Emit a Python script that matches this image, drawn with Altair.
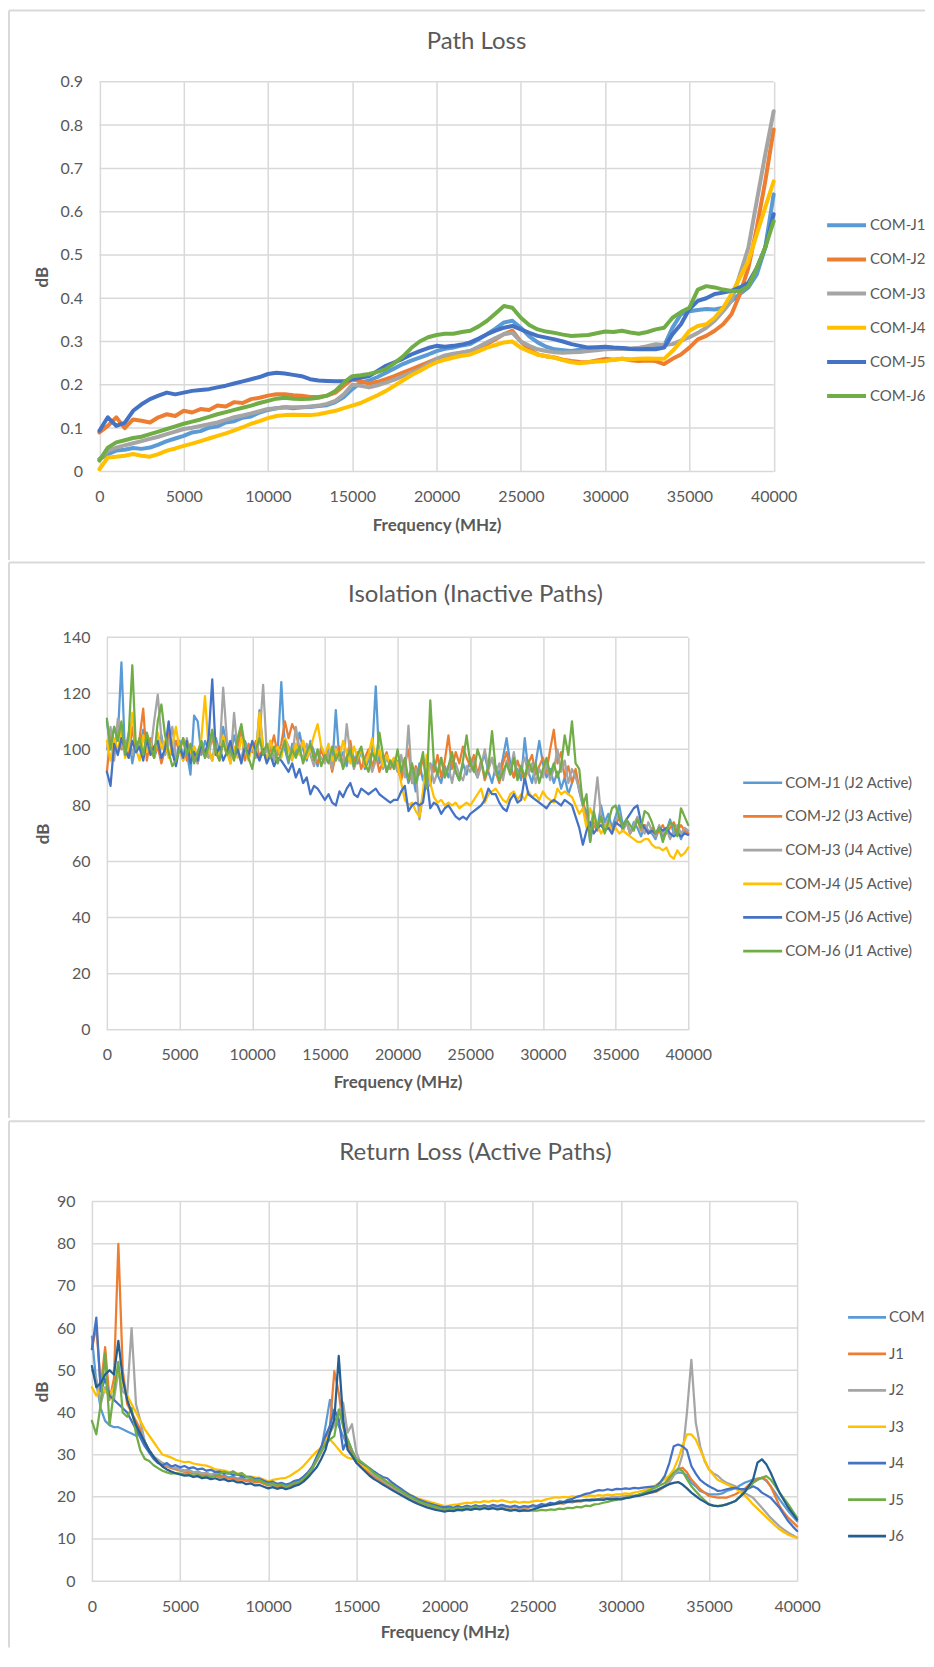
import altair as alt
import pandas as pd

FONT = "Lato"
GRID = "#D9D9D9"
TXT = "#595959"

# ---------------- Path Loss (500 MHz grid) ----------------
pl_freq = list(range(0, 40001, 500))
pl_names = ["COM-J1", "COM-J2", "COM-J3", "COM-J4", "COM-J5", "COM-J6"]
pl_colors = ["#5B9BD5", "#ED7D31", "#A5A5A5", "#FFC000", "#4472C4", "#70AD47"]
pl_ticks = [0, 0.1, 0.2, 0.3, 0.4, 0.5, 0.6, 0.7, 0.8, 0.9]

pl_j1 = [0.028, 0.040, 0.048, 0.050, 0.054, 0.052, 0.055, 0.062, 0.070, 0.076,
         0.082, 0.090, 0.093, 0.101, 0.104, 0.113, 0.116, 0.124, 0.127, 0.136,
         0.142, 0.146, 0.148, 0.146, 0.148, 0.149, 0.151, 0.153, 0.160, 0.172,
         0.190, 0.205, 0.210, 0.218, 0.228, 0.238, 0.248, 0.256, 0.263, 0.270,
         0.278, 0.283, 0.286, 0.291, 0.294, 0.305, 0.317, 0.330, 0.344, 0.348,
         0.332, 0.312, 0.298, 0.288, 0.282, 0.280, 0.278, 0.281, 0.282, 0.284,
         0.283, 0.285, 0.285, 0.283, 0.285, 0.287, 0.287, 0.290, 0.332, 0.363,
         0.370, 0.373, 0.375, 0.374, 0.378, 0.394, 0.410, 0.425, 0.455, 0.517,
         0.640]
pl_j2 = [0.090, 0.105, 0.125, 0.100, 0.120, 0.117, 0.113, 0.125, 0.132, 0.128,
         0.140, 0.136, 0.144, 0.142, 0.152, 0.150, 0.160, 0.158, 0.167, 0.170,
         0.175, 0.178, 0.178, 0.176, 0.175, 0.172, 0.172, 0.175, 0.182, 0.198,
         0.213, 0.208, 0.203, 0.207, 0.213, 0.220, 0.228, 0.236, 0.244, 0.252,
         0.260, 0.265, 0.270, 0.274, 0.278, 0.286, 0.294, 0.305, 0.317, 0.325,
         0.300, 0.282, 0.270, 0.266, 0.263, 0.258, 0.255, 0.253, 0.252, 0.256,
         0.260, 0.258, 0.260, 0.257, 0.255, 0.256, 0.255, 0.248, 0.260, 0.270,
         0.286, 0.305, 0.313, 0.325, 0.340, 0.363, 0.410, 0.470, 0.563, 0.670,
         0.790]
pl_j3 = [0.028, 0.048, 0.055, 0.060, 0.065, 0.070, 0.075, 0.080, 0.086, 0.092,
         0.098, 0.101, 0.105, 0.109, 0.113, 0.119, 0.125, 0.129, 0.134, 0.139,
         0.144, 0.146, 0.148, 0.148, 0.148, 0.150, 0.152, 0.156, 0.163, 0.178,
         0.200, 0.198, 0.194, 0.199, 0.205, 0.212, 0.220, 0.228, 0.236, 0.248,
         0.260, 0.268, 0.272, 0.275, 0.278, 0.288, 0.298, 0.308, 0.317, 0.320,
         0.300, 0.290, 0.282, 0.278, 0.275, 0.274, 0.275, 0.276, 0.278, 0.280,
         0.282, 0.283, 0.283, 0.284, 0.285, 0.289, 0.294, 0.292, 0.294, 0.302,
         0.310, 0.320, 0.332, 0.348, 0.370, 0.394, 0.455, 0.517, 0.625, 0.732,
         0.832]
pl_j4 = [0.005, 0.032, 0.034, 0.036, 0.040, 0.036, 0.034, 0.040, 0.048, 0.053,
         0.059, 0.064, 0.070, 0.076, 0.082, 0.088, 0.095, 0.102, 0.110, 0.116,
         0.123, 0.128, 0.130, 0.131, 0.130, 0.130, 0.132, 0.136, 0.140, 0.146,
         0.152, 0.158, 0.167, 0.176, 0.186, 0.198, 0.210, 0.222, 0.232, 0.243,
         0.252, 0.258, 0.263, 0.267, 0.270, 0.278, 0.286, 0.292, 0.298, 0.300,
         0.286, 0.277, 0.270, 0.266, 0.263, 0.257, 0.252, 0.250, 0.252, 0.254,
         0.255, 0.258, 0.260, 0.259, 0.260, 0.261, 0.260, 0.260, 0.278, 0.300,
         0.325, 0.336, 0.340, 0.355, 0.378, 0.410, 0.448, 0.486, 0.548, 0.610,
         0.670]
pl_j5 = [0.094, 0.125, 0.105, 0.112, 0.140, 0.155, 0.167, 0.175, 0.182, 0.178,
         0.182, 0.186, 0.188, 0.190, 0.194, 0.198, 0.203, 0.208, 0.213, 0.218,
         0.225, 0.228, 0.226, 0.223, 0.220, 0.213, 0.210, 0.209, 0.208, 0.208,
         0.213, 0.216, 0.220, 0.232, 0.244, 0.252, 0.260, 0.270, 0.278, 0.285,
         0.290, 0.288, 0.290, 0.293, 0.298, 0.307, 0.317, 0.325, 0.332, 0.336,
         0.328, 0.320, 0.313, 0.309, 0.305, 0.300, 0.294, 0.290, 0.286, 0.287,
         0.288, 0.286, 0.285, 0.283, 0.282, 0.283, 0.282, 0.286, 0.317, 0.340,
         0.375, 0.394, 0.400, 0.410, 0.413, 0.417, 0.425, 0.436, 0.470, 0.517,
         0.594]
pl_j6 = [0.025, 0.055, 0.067, 0.072, 0.077, 0.080, 0.086, 0.092, 0.098, 0.104,
         0.110, 0.115, 0.120, 0.126, 0.132, 0.137, 0.142, 0.147, 0.152, 0.158,
         0.163, 0.168, 0.170, 0.168, 0.167, 0.168, 0.170, 0.175, 0.186, 0.205,
         0.220, 0.222, 0.225, 0.230, 0.236, 0.250, 0.265, 0.285, 0.300, 0.310,
         0.315, 0.318, 0.318, 0.322, 0.325, 0.335, 0.348, 0.365, 0.382, 0.378,
         0.355, 0.338, 0.328, 0.323, 0.320, 0.316, 0.313, 0.314, 0.315, 0.319,
         0.323, 0.322, 0.325, 0.321, 0.318, 0.322, 0.328, 0.332, 0.355, 0.368,
         0.378, 0.420, 0.428, 0.425, 0.420, 0.417, 0.417, 0.428, 0.470, 0.517,
         0.578]

# ---------------- Isolation (250 MHz grid) ----------------
iso_freq = list(range(0, 40001, 250))
iso_names = ["COM-J1 (J2 Active)", "COM-J2 (J3 Active)", "COM-J3 (J4 Active)",
             "COM-J4 (J5 Active)", "COM-J5 (J6 Active)", "COM-J6 (J1 Active)"]
iso_colors = ["#5B9BD5", "#ED7D31", "#A5A5A5", "#FFC000", "#4472C4", "#70AD47"]
iso_ticks = [0, 20, 40, 60, 80, 100, 120, 140]

iso_j1 = [110, 100, 108, 104, 131, 98, 105, 95, 102, 100, 107, 99, 103, 97, 101, 105, 98, 106, 100, 96,
          103, 97, 99, 91, 112, 110, 98, 103, 100, 96, 104, 99, 108, 101, 97, 105, 100, 96, 103, 99,
          102, 98, 114, 100, 96, 103, 97, 99, 124, 100, 95, 102, 98, 106, 100, 96, 103, 99, 94, 101,
          97, 100, 93, 114, 96, 99, 94, 101, 97, 95, 100, 93, 96, 99, 122.5, 95, 98, 92, 96, 94,
          96, 90, 94, 88, 92, 85, 95, 89, 93, 87, 96, 91, 88, 94, 90, 96, 92, 89, 95, 91,
          97, 93, 90, 95, 98, 92, 88, 94, 91, 97, 104, 95, 90, 93, 89, 104, 92, 88, 95, 103,
          95, 90, 93, 88, 92, 86, 90, 84, 88, 92, 85, 80, 78, 67, 75, 72, 80, 74, 77, 72,
          76, 80, 73, 75, 70, 74, 72, 69, 73, 71, 70, 68, 72, 69, 71, 75, 70, 72, 68, 71,
          70]
iso_j2 = [92, 105, 98, 107, 100, 103, 97, 108, 99, 104, 114.5, 96, 104, 98, 101, 95, 100, 106, 98, 103,
          99, 104, 96, 101, 98, 95, 102, 97, 100, 104, 99, 96, 103, 98, 101, 97, 100, 108, 96, 102,
          99, 103, 97, 101, 96, 100, 105, 98, 102, 110, 104, 109, 106, 100, 103, 97, 101, 98, 95, 100,
          96, 99, 92, 98, 101, 94, 97, 103, 95, 99, 93, 97, 100, 94, 98, 92, 96, 99, 93, 97,
          93, 89, 95, 100, 88, 94, 91, 97, 89, 95, 92, 98, 90, 96, 105, 93, 99, 95, 101, 97,
          94, 98, 91, 96, 89, 93, 97, 92, 88, 95, 99, 93, 90, 96, 92, 89, 95, 98, 91, 94,
          97, 92, 100, 107, 95, 99, 90, 94, 88, 93, 86, 82, 75, 69, 73, 71, 76, 72, 74, 70,
          73, 76, 71, 74, 70, 72, 75, 71, 73, 70, 72, 69, 71, 73, 70, 72, 74, 71, 73, 71,
          70]
iso_j3 = [100, 108, 96, 111, 101, 99, 106, 98, 103, 100, 97, 105, 99, 110, 119.5, 104, 98, 102, 108, 97,
          100, 96, 104, 98, 101, 95, 103, 99, 97, 106, 100, 98, 122, 104, 95, 113, 99, 96, 102, 98,
          101, 97, 104, 123, 99, 103, 96, 100, 98, 104, 101, 97, 108, 100, 96, 102, 98, 94, 99, 97,
          95, 99, 93, 101, 97, 94, 109, 98, 93, 97, 100, 94, 98, 92, 96, 99, 93, 97, 94, 96,
          92, 98, 90, 108.5, 88, 93, 75, 84, 90, 95, 88, 92, 97, 90, 94, 88, 95, 91, 89, 94,
          92, 96, 90, 94, 100, 93, 97, 91, 95, 89, 96, 92, 99, 90, 94, 97, 91, 95, 88, 93,
          90, 95, 89, 93, 100, 92, 96, 88, 93, 90, 86, 80, 74, 72, 78, 90, 76, 72, 75, 70,
          74, 77, 71, 74, 70, 73, 76, 72, 70, 74, 71, 69, 73, 70, 72, 68, 71, 73, 70, 72,
          71]
iso_j4 = [103, 96, 104, 99, 108, 97, 101, 113, 100, 96, 105, 99, 102, 97, 106, 100, 103, 97, 101, 108,
          100, 96, 103, 99, 101, 97, 104, 119, 100, 96, 102, 98, 105, 99, 95, 101, 97, 104, 100, 96,
          102, 98, 113, 100, 96, 103, 99, 101, 97, 104, 100, 96, 102, 98, 103, 97, 100, 105, 109, 101,
          98, 102, 96, 100, 97, 103, 99, 95, 101, 97, 100, 94, 98, 104, 96, 100, 94, 98, 95, 97,
          95, 88, 82, 80, 81, 78, 76, 85, 98, 88, 83, 81, 82, 80, 81, 80, 81, 79, 80, 81,
          80, 82, 84, 86, 81, 84, 85, 86, 84, 82, 81, 84, 85, 82, 84, 82, 85, 83, 84, 82,
          85, 83, 82, 81, 86, 84, 85, 84, 83, 80, 77, 79, 72, 79, 75, 73, 70, 72, 74, 71,
          72, 70, 71, 70, 69, 68, 67, 67, 68, 68, 66, 65, 65, 64, 65, 62, 61, 64, 62, 63,
          65]
iso_j5 = [92, 87, 102, 98, 104, 100, 97, 103, 99, 101, 96, 104, 98, 101, 103, 97, 100, 110, 99, 94,
          101, 97, 103, 95, 99, 96, 102, 98, 104, 125, 98, 101, 96, 99, 103, 97, 100, 95, 101, 98,
          103, 99, 96, 100, 95, 98, 94, 97, 96, 94, 92, 95, 90, 93, 88, 90, 84, 87, 86, 84,
          82, 84, 81, 80, 85, 83, 86, 88, 84, 83, 86, 85, 84, 85, 86, 84, 83, 82, 81, 82,
          82, 85, 87, 78, 80, 81, 80, 81, 90, 79, 81, 80, 77, 79, 80, 78, 76, 75, 76, 75,
          77, 78, 79, 80, 82, 86, 84, 84, 81, 79, 78, 82, 84, 81, 82, 90, 84, 83, 82, 81,
          80, 79, 81, 82, 81, 80, 82, 81, 80, 76, 72, 66, 71, 74, 70, 72, 73, 71, 72, 70,
          74, 73, 72, 75, 77, 79, 80, 74, 72, 70, 71, 70, 72, 71, 72, 70, 69, 70, 69, 70,
          69.5]
iso_j6 = [111, 100, 108, 103, 110, 98, 105, 130, 100, 104, 98, 106, 101, 97, 110, 116, 105, 99, 94, 96,
          100, 104, 98, 102, 95, 99, 103, 97, 101, 107, 99, 96, 103, 98, 100, 96, 104, 109, 101, 97,
          93, 100, 104, 98, 102, 97, 101, 95, 99, 103, 96, 100, 97, 101, 95, 99, 102, 96, 100, 94,
          98, 95, 101, 96, 99, 93, 97, 100, 94, 98, 101, 95, 92, 99, 96, 106, 98, 92, 96, 93,
          100, 92, 97, 89, 95, 88, 93, 99, 86, 117.5, 95, 91, 97, 90, 94, 99, 92, 89, 96, 105,
          95, 92, 100, 96, 90, 94, 106.5, 93, 89, 92, 95, 91, 97, 89, 94, 90, 96, 92, 95, 88,
          93, 97, 91, 95, 90, 94, 105, 98, 110, 95, 93, 80, 84, 67, 78, 72, 76, 70, 74, 79,
          80, 76, 72, 75, 73, 71, 75, 72, 78, 77, 74, 70, 72, 67, 71, 74, 73, 69, 79, 76,
          73]

# ---------------- Return Loss (250 MHz grid) ----------------
rl_freq = list(range(0, 40001, 250))
rl_names = ["COM", "J1", "J2", "J3", "J4", "J5", "J6"]
rl_colors = ["#5B9BD5", "#ED7D31", "#A5A5A5", "#FFC000", "#4472C4", "#70AD47", "#255E91"]
rl_ticks = [0, 10, 20, 30, 40, 50, 60, 70, 80, 90]

rl_com = [58, 47, 41, 38, 37, 36.5, 36.5, 36, 35.5, 35, 34.5, 35.5, 33, 31, 29.5, 28.5, 28, 27.5, 27, 26.8,
          26.5, 26.2, 26.4, 25.8, 26, 25.5, 25.7, 25.2, 25.4, 24.9, 25.1, 24.6, 24.8, 24.3, 24.5, 23.9, 24, 23.5, 23.7, 23.2,
          22.8, 23, 22.5, 22.7, 22.3, 22.6, 23.2, 23.4, 24, 25.5, 26.5, 29, 31, 36.8, 43, 38.4, 36.8, 34.4, 32, 30.5,
          28, 27.5, 26.5, 25.8, 25, 24.6, 23.8, 23.2, 22.5, 21.9, 21.3, 20.7, 20, 19.6, 19, 18.7, 18.3, 18, 17.8, 17.5,
          17.3, 17.5, 17.2, 17.6, 17.4, 17.8, 17.5, 17.9, 17.6, 17.8, 17.5, 17.9, 17.6, 18, 17.7, 17.5, 17.8, 17.4, 17.7, 17.6,
          17.9, 17.7, 18.1, 18, 18.4, 18.3, 18.6, 18.5, 18.9, 18.8, 19.1, 19, 19.3, 19.2, 19.5, 19.4, 19.7, 19.6, 19.9, 19.8,
          20, 20.1, 20.3, 20.2, 20.5, 20.7, 21, 21.3, 21.6, 22, 22.5, 23.5, 25.3, 25.8, 25.7, 25, 23.3, 22.5, 21.4, 21,
          20.6, 20.6, 20.6, 20.8, 21.4, 21.7, 22.1, 22.7, 23.3, 23.7, 24.1, 24.3, 24.5, 23.8, 22.5, 21, 19.4, 18, 16.6, 15.4,
          14.2]
rl_j1 = [55, 60.5, 46, 55.5, 43, 48, 80, 50, 42, 40, 38, 36, 33, 31, 29.5, 28.5, 27.8, 27.2, 26.8, 26.5,
         26.2, 25.9, 26, 25.5, 25.6, 25.2, 25.3, 24.9, 25, 24.6, 24.7, 24.3, 24.4, 24, 24.1, 23.7, 23.8, 23.4, 23.5, 23.1,
         22.7, 22.9, 22.4, 22.6, 22.2, 22.5, 23, 23.3, 24.2, 25.2, 26.8, 28.5, 30.5, 33.5, 36.8, 49.8, 44.7, 36.8, 32, 30,
         28.5, 27.3, 26.3, 25.5, 24.7, 24.2, 23.4, 22.8, 22.2, 21.6, 21, 20.4, 19.7, 19.2, 18.7, 18.3, 18, 17.7, 17.4, 17.1,
         16.8, 17, 16.9, 17.2, 17.1, 17.4, 17.2, 17.5, 17.3, 17.6, 17.4, 17.7, 17.4, 17.8, 17.5, 17.3, 17.6, 17.2, 17.5, 17.4,
         17.7, 17.6, 18, 17.9, 18.3, 18.2, 18.5, 18.4, 18.8, 18.7, 19, 18.9, 19.2, 19.1, 19.4, 19.3, 19.6, 19.5, 19.8, 19.7,
         19.9, 20, 20.2, 20.1, 20.4, 20.6, 20.8, 21, 21.2, 21.8, 22.5, 24, 25.7, 26.5, 26.9, 25.8, 24.1, 23, 21.8, 21,
         20.2, 20, 19.8, 19.8, 19.8, 20.2, 20.6, 21.2, 21.8, 22.8, 23.7, 24.2, 24.5, 24, 22.5, 20.2, 17.8, 16.3, 15, 14,
         13]
rl_j2 = [50, 48, 42, 46, 44, 43, 50, 45, 44, 60, 42, 38, 33, 31, 29.5, 28.8, 28, 27.5, 27, 26.8,
         26.4, 26.1, 26.3, 25.8, 25.9, 25.5, 25.7, 25.2, 25.8, 25.6, 26, 25.5, 26.1, 25.4, 25.6, 24.8, 24.6, 24, 24.1, 23.5,
         23.2, 23.3, 22.9, 23, 22.6, 22.9, 23.4, 23.6, 24.4, 25.5, 27, 28.5, 30.5, 32.5, 35.2, 37, 40, 42.3, 35.2, 37.2,
         30.5, 28, 27, 26, 25.2, 24.6, 23.8, 23.1, 22.5, 21.8, 21.2, 20.6, 19.9, 19.4, 18.9, 18.5, 18.2, 17.9, 17.6, 17.3,
         17, 17.3, 17.1, 17.4, 17.2, 17.6, 17.3, 17.7, 17.4, 17.7, 17.5, 17.8, 17.5, 17.9, 17.6, 17.4, 17.7, 17.3, 17.6, 17.5,
         17.8, 17.7, 18.1, 18, 18.4, 18.3, 18.6, 18.5, 18.9, 18.8, 19.1, 19, 19.3, 19.2, 19.5, 19.4, 19.7, 19.6, 19.9, 19.8,
         20, 20.1, 20.3, 20.2, 20.5, 20.7, 21, 21.2, 21.5, 22, 22.5, 23.5, 25, 26.5, 30, 40, 52.5, 37.6, 32, 28.5,
         26.5, 25.5, 25, 24, 23.3, 22.9, 22.5, 21.7, 21, 20.4, 19.8, 18.6, 17.4, 16.2, 15, 14, 13, 12.2, 11.5, 10.9,
         10.3]
rl_j3 = [46, 44, 46, 45, 44, 46, 50, 47, 44, 42, 40, 38, 36, 34.5, 33, 31.5, 30, 29.7, 29.3, 28.8,
         28.5, 28.2, 28.3, 27.9, 27.7, 27.5, 27.4, 27, 26.5, 26.4, 26.2, 25.9, 25.7, 25.5, 25.3, 25, 24.8, 24.6, 24.5, 24.1,
         23.7, 24, 24.2, 24.4, 24.5, 25, 25.7, 26.4, 27.3, 28.5, 29.7, 30.8, 31.6, 34, 33.6, 32.5, 31.2, 30, 29.3, 29,
         28.9, 27.9, 26.9, 26.3, 25.6, 25, 24.3, 23.6, 23, 22.5, 21.9, 21.2, 20.6, 20.1, 19.6, 19.3, 19, 18.7, 18.4, 18.1,
         17.8, 17.9, 18.1, 18.2, 18.4, 18.6, 18.5, 18.8, 18.7, 19, 18.8, 19.1, 18.9, 19.2, 18.9, 18.7, 18.9, 18.6, 18.8, 18.7,
         18.9, 19.1, 19, 19.4, 19.6, 19.9, 19.8, 20, 19.9, 20.1, 20, 20.2, 20.1, 20.3, 20.2, 20.4, 20.3, 20.5, 20.4, 20.6,
         20.6, 20.8, 20.7, 21, 21.2, 21.5, 21.8, 22.2, 22.8, 23.5, 24.2, 25, 26.5, 29, 32, 34.8, 34.8, 33.6, 31.2, 28.8,
         26.5, 25.2, 24, 23.5, 23, 22.5, 22, 21.2, 20.5, 19.4, 18.2, 17.2, 16.2, 15.2, 14.2, 13.2, 12.3, 11.6, 11, 10.6,
         10.3]
rl_j4 = [55, 62.5, 45, 48, 44, 43, 42, 41, 40, 38, 36, 34, 32, 30.5, 29, 28, 27.5, 28, 27.2, 27.5,
         27, 27.3, 26.8, 27, 26.5, 26.7, 26.2, 26.4, 25.9, 26, 25.5, 25.7, 25.2, 25.3, 24.9, 24.6, 24.7, 24.2, 24.3, 23.8,
         23.4, 23.6, 23.1, 23.3, 22.9, 23.2, 23.8, 24, 24.8, 25.8, 27.2, 29.5, 31.8, 34.5, 36.8, 40.7, 38.4, 31.2, 33.6, 31,
         28.9, 28.2, 27.5, 26.8, 26, 25.3, 24.7, 24.4, 23.5, 22.7, 22, 21.2, 20.5, 20, 19.4, 19, 18.6, 18.3, 18, 17.7,
         17.5, 17.7, 17.4, 17.8, 17.5, 17.9, 17.6, 18, 17.7, 18, 17.7, 18.1, 17.8, 18.1, 17.8, 17.6, 17.9, 17.5, 17.8, 17.6,
         18, 17.8, 18.3, 18.1, 18.6, 18.4, 18.9, 18.8, 19.3, 19.5, 20, 20.3, 20.7, 20.9, 21.3, 21.6, 21.5, 21.8, 21.6, 21.9,
         21.8, 22, 21.9, 22.1, 22, 22.2, 22.3, 22.4, 22.5, 23.5, 25, 28, 32, 32.4, 32, 31, 27.3, 25.5, 24, 23.2,
         22.5, 22, 21.4, 21.5, 21.8, 22, 22.1, 21.9, 21.8, 22, 22.5, 22, 21, 20.4, 19.8, 18.6, 17.4, 15.8, 14.2, 13,
         11.9]
rl_j5 = [38, 34.8, 42, 54, 37, 45, 52, 40, 39, 41, 35, 31, 29, 28.5, 27.5, 26.8, 26.2, 25.8, 25.5, 25.6,
         25.5, 25.3, 25.4, 25, 25.2, 24.8, 25, 24.7, 25, 25.4, 26, 25.5, 26, 25.3, 25.6, 24.7, 24.5, 23.9, 24, 23.4,
         23, 23.2, 22.7, 22.9, 22.5, 22.8, 23.3, 23.5, 24.3, 25.3, 26.8, 28.8, 30.8, 32.5, 33.6, 34.4, 40.7, 36.8, 33.6, 31,
         28.9, 28.4, 27.6, 26.6, 25.6, 25, 24.2, 23.5, 22.8, 22.1, 21.5, 20.8, 20.1, 19.6, 19, 18.6, 18.2, 17.9, 17.6, 17.3,
         17, 17.2, 17.1, 17.4, 17.2, 17.5, 17.3, 17.6, 17.3, 17.5, 17.2, 17.4, 17.1, 17.3, 17, 16.8, 17, 16.7, 16.9, 16.7,
         16.8, 16.7, 16.9, 16.8, 17, 16.9, 17.2, 17.1, 17.4, 17.3, 17.6, 17.5, 17.9, 17.8, 18.2, 18.3, 18.6, 18.8, 19.1, 19.3,
         19.5, 19.7, 20, 20.2, 20.5, 20.9, 21.3, 21.8, 22.3, 22.8, 23.3, 24.5, 25.7, 26.7, 26.1, 24.2, 22.5, 21.3, 20.2, 19.2,
         18.2, 17.9, 17.8, 18, 18.2, 18.6, 19, 20, 21, 22.2, 23.3, 24, 24.5, 24.9, 24.1, 22.6, 21, 19.6, 18.2, 16.6,
         15]
rl_j6 = [51, 46, 47, 49, 50, 49, 57, 48, 43, 40, 37, 35, 33, 31, 29.5, 28.2, 27.2, 26.5, 26, 25.6,
         25.3, 25, 25.1, 24.7, 24.9, 24.4, 24.6, 24.2, 24.4, 24, 24.2, 23.7, 23.9, 23.4, 23.5, 23, 23.2, 22.7, 22.8, 22.4,
         22, 22.3, 21.9, 22.2, 21.8, 22.1, 22.6, 22.9, 23.6, 24.6, 25.8, 27, 28.9, 31.2, 35.2, 38.4, 53.4, 38.4, 31.2, 29.7,
         28.1, 27, 26, 25, 24.2, 23.6, 22.9, 22.3, 21.7, 21.1, 20.5, 19.9, 19.3, 18.8, 18.3, 17.9, 17.5, 17.2, 16.9, 16.7,
         16.5, 16.7, 16.6, 16.9, 16.8, 17.1, 16.9, 17.2, 17, 17.3, 17.1, 17.3, 17, 17.2, 16.9, 16.7, 16.9, 16.6, 16.8, 16.7,
         17, 17.3, 17.7, 17.9, 18.1, 18.3, 18.5, 18.7, 18.8, 18.9, 19, 19.1, 19.2, 19.3, 19.2, 19.4, 19.3, 19.5, 19.4, 19.5,
         19.4, 19.7, 19.8, 20.1, 20.2, 20.5, 20.8, 21.1, 21.4, 22, 22.5, 23, 23.3, 23.5, 22.9, 22, 21, 20.2, 19.4, 18.8,
         18.2, 17.9, 17.8, 17.9, 18.2, 18.6, 19, 20, 21, 22.5, 24.1, 28.1, 28.9, 27.7, 25.7, 23.3, 21, 19.2, 17.4, 16,
         14.6]


def long_df(freq, names, cols, key):
    rows = []
    for name, vals in zip(names, cols):
        assert len(vals) == len(freq), f"{name}: {len(vals)} values vs {len(freq)}"
        for f, v in zip(freq, vals):
            rows.append({"freq": f, "value": v, key: name})
    return pd.DataFrame(rows)


G = 92.0     # common left edge (page px) of every panel's view group
RIGHT = 926  # right end of the panel frame lines (page px)


def panel(df, key, names, colors, title, title_cx_abs, title_base_abs, plot_left, plot_top, width, height,
          ydom, yticks, yfmt, line_w, border_top_abs, bottom_abs, white_bottom,
          sw_x0_abs, sw_x1_abs, lab_x_abs, row_first_abs, row_last_abs, sym_w, x_title_y, y_title_cx_abs):
    off = plot_left - G
    gw = off + width
    xscale = alt.Scale(domain=[0, 40000], nice=False, zero=False, range=[off, off + width])
    yscale = alt.Scale(domain=ydom, nice=False)
    cscale = alt.Scale(domain=names, range=colors)
    xaxis = alt.Axis(values=list(range(0, 40001, 5000)), format="d", title="Frequency (MHz)",
                     grid=True, gridColor=GRID, gridWidth=1.5, domain=False, ticks=False, tickSize=0,
                     labelFont=FONT, labelFontSize=16, labelColor=TXT, labelPadding=17,
                     labelFlush=False, labelOverlap=False,
                     titleFont=FONT, titleFontSize=17, titleFontWeight="bold", titleColor=TXT,
                     titleX=off + width / 2, titleY=x_title_y, titleBaseline="alphabetic",
                     titleAlign="center")
    yaxis = alt.Axis(values=yticks, format=yfmt, title="dB", offset=-off,
                     grid=False, domain=False, ticks=False, tickSize=0,
                     labelFont=FONT, labelFontSize=16, labelColor=TXT, labelPadding=17,
                     labelOverlap=False,
                     titleFont=FONT, titleFontSize=17, titleFontWeight="bold", titleColor=TXT,
                     titleAngle=270, titleX=y_title_cx_abs - plot_left, titleY=height / 2,
                     titleAlign="center", titleBaseline="middle")
    grid_df = pd.DataFrame({"value": yticks})
    hgrid = alt.Chart(grid_df).mark_rule(color=GRID, strokeWidth=1.5).encode(
        y=alt.Y("value:Q", scale=yscale, axis=yaxis),
        x=alt.value(off), x2=alt.value(off + width))
    lines = alt.Chart(df).mark_line(strokeWidth=line_w, strokeJoin="round", strokeCap="round").encode(
        x=alt.X("freq:Q", scale=xscale, axis=xaxis),
        y=alt.Y("value:Q", scale=yscale, axis=yaxis),
        color=alt.Color(f"{key}:N", sort=names, scale=cscale, legend=None),
    )
    # legend drawn as marks: rows placed by a point scale over the series names
    leg_df = pd.DataFrame({key: names})
    lscale = alt.Scale(type="point", domain=names, padding=0,
                       range=[row_first_abs - plot_top, row_last_abs - plot_top])
    leg_sw = alt.Chart(leg_df).mark_rule(strokeWidth=sym_w, strokeCap="butt").encode(
        y=alt.Y(f"{key}:N", scale=lscale, axis=None, sort=names),
        x=alt.value(sw_x0_abs - G), x2=alt.value(sw_x1_abs - G),
        color=alt.Color(f"{key}:N", sort=names, scale=cscale, legend=None))
    leg_tx = alt.Chart(leg_df).mark_text(font=FONT, fontSize=15, color=TXT, align="left",
                                         baseline="middle").encode(
        y=alt.Y(f"{key}:N", scale=lscale, axis=None, sort=names),
        x=alt.value(lab_x_abs - G), text=f"{key}:N")
    legend = alt.layer(leg_sw, leg_tx)

    frame = alt.Data(values=[{"t": title}])
    L = 9 - G
    R = RIGHT - G
    T = border_top_abs - plot_top
    B = bottom_abs - plot_top
    top_rule = alt.Chart(frame).mark_rule(color=GRID, strokeWidth=2).encode(
        x=alt.value(L), x2=alt.value(R), y=alt.value(T))
    left_rule = alt.Chart(frame).mark_rule(color=GRID, strokeWidth=2).encode(
        x=alt.value(L), y=alt.value(T), y2=alt.value(B))
    title_txt = alt.Chart(frame).mark_text(font=FONT, fontSize=24, color=TXT, align="center",
                                           baseline="alphabetic").encode(
        text="t:N", x=alt.value(title_cx_abs - G), y=alt.value(title_base_abs - plot_top))
    layers = [top_rule, left_rule, title_txt]
    if white_bottom:
        layers.append(alt.Chart(frame).mark_rule(color="#FFFFFF", strokeWidth=2).encode(
            x=alt.value(L + 1), x2=alt.value(R), y=alt.value(B)))
    base = alt.layer(*layers, hgrid, lines)
    return alt.layer(base, legend).resolve_scale(y="independent").properties(width=gw, height=height)


pl_df = long_df(pl_freq, pl_names, [pl_j1, pl_j2, pl_j3, pl_j4, pl_j5, pl_j6], "series_pl")
iso_df = long_df(iso_freq, iso_names, [iso_j1, iso_j2, iso_j3, iso_j4, iso_j5, iso_j6], "series_iso")
rl_df = long_df(rl_freq, rl_names, [rl_com, rl_j1, rl_j2, rl_j3, rl_j4, rl_j5, rl_j6], "series_rl")

p1 = panel(pl_df, "series_pl", pl_names, pl_colors, "Path Loss", 477, 48,
           99.5, 80.4, 675, 390, [0, 0.9], pl_ticks, "~g", 4,
           9, 559, True, 828, 867, 871, 224, 395, 4, 59, 43)
p2 = panel(iso_df, "series_iso", iso_names, iso_colors, "Isolation (Inactive Paths)", 476, 600,
           107, 635.7, 582, 393, [0, 140], iso_ticks, "d", 2.25,
           561, 1117, True, 744, 783, 786, 781.4, 950, 2.75, 58, 44)
p3 = panel(rl_df, "series_rl", rl_names, rl_colors, "Return Loss (Active Paths)", 476, 1158,
           92, 1199.5, 706, 380, [0, 90], rl_ticks, "d", 2.25,
           1119, 1646, False, 849, 887, 890, 1315.3, 1534.5, 2.75, 56, 43)

chart = alt.vconcat(p1, p2, p3, spacing=0).resolve_scale(
    color="independent", x="independent", y="independent"
).properties(
    padding=0, background="white"
).configure_view(strokeWidth=0).configure_concat(spacing=0)

chart.save("out.html", embed_options={"renderer": "svg", "actions": False})
